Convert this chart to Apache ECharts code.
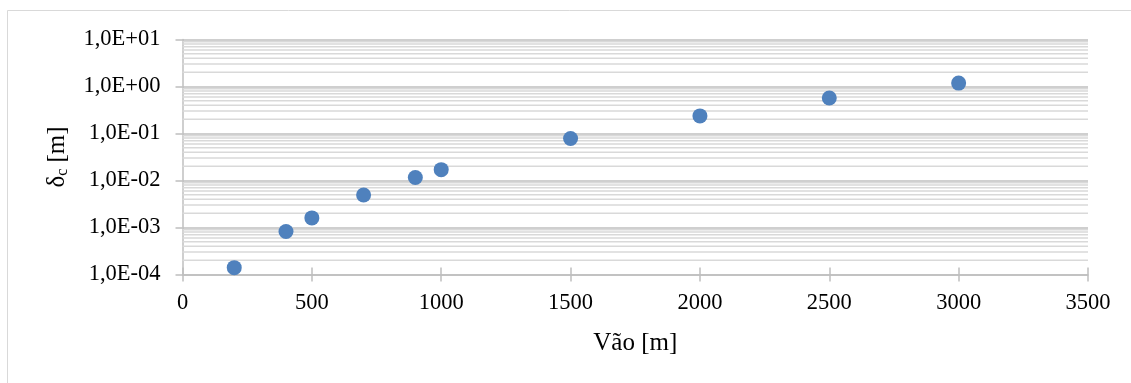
<!DOCTYPE html>
<html>
<head>
<meta charset="utf-8">
<script src="https://cdn.jsdelivr.net/npm/echarts@6/dist/echarts.min.js"></script>
<style>
  html, body { margin: 0; padding: 0; background: #ffffff; }
  #chart { width: 1131px; height: 383px; }
</style>
</head>
<body>
<div id="chart"></div>
<script>
// Span (m) and central deflection δc (m)
const spans = [200, 400, 500, 700, 900, 1000, 1500, 2000, 2500, 3000];
const deflections = [1.4e-4, 8.2e-4, 1.6e-3, 4.9e-3, 1.16e-2, 1.7e-2, 7.8e-2, 0.237, 0.57, 1.18];

// Axis ticks
const xTicks = [0, 500, 1000, 1500, 2000, 2500, 3000, 3500];
const yTickLabels = ['1,0E-04', '1,0E-03', '1,0E-02', '1,0E-01', '1,0E+00', '1,0E+01'];
const yMinExp = -4;
const yMaxExp = 1;

const FONT = '"Liberation Serif", "Times New Roman", serif';
const TICK_SIZE = 22.5;

const xMin = xTicks[0];
const xMax = xTicks[xTicks.length - 1];

// Minor gridlines at 2..9 within each decade, drawn as flat line series
const minorSeries = [];
for (let e = yMinExp; e < yMaxExp; e++) {
  for (let m = 2; m <= 9; m++) {
    const v = m * Math.pow(10, e);
    minorSeries.push({
      type: 'line',
      silent: true,
      symbol: 'none',
      data: [[xMin, v], [xMax, v]],
      lineStyle: { color: '#d9d9d9', width: 1.5 },
      z: 1
    });
  }
}

const points = spans.map((s, i) => [s, deflections[i]]);

const chart = echarts.init(document.getElementById('chart'), null, { renderer: 'canvas' });

chart.setOption({
  animation: false,
  backgroundColor: '#ffffff',
  graphic: [{
    type: 'rect',
    silent: true,
    shape: { x: 7.5, y: 10.5, width: 1200, height: 500 },
    style: { fill: 'none', stroke: '#d9d9d9', lineWidth: 1 }
  }],
  grid: { left: 182.5, right: 43, top: 39.5, bottom: 108.5, containLabel: false },
  xAxis: [{
    type: 'value',
    min: xMin,
    max: xMax,
    interval: 500,
    name: 'Vão [m]',
    nameLocation: 'middle',
    nameGap: 56,
    nameTextStyle: { fontFamily: FONT, fontSize: 25, color: '#000000' },
    axisLine: { show: true, onZero: false, lineStyle: { color: '#bfbfbf', width: 1.5 } },
    axisTick: { show: true, length: 7, lineStyle: { color: '#bfbfbf', width: 1.5 } },
    axisLabel: {
      margin: 17, fontFamily: FONT, fontSize: TICK_SIZE, color: '#000000',
      formatter: function (v) { return String(v); }
    },
    splitLine: { show: false }
  }, {
    // inner half of the cross tick marks
    type: 'value',
    position: 'bottom',
    min: xMin,
    max: xMax,
    interval: 500,
    axisLine: { show: false },
    axisTick: { show: true, inside: true, length: 7, lineStyle: { color: '#bfbfbf', width: 1.5 } },
    axisLabel: { show: false },
    splitLine: { show: false }
  }],
  yAxis: {
    type: 'log',
    logBase: 10,
    min: Math.pow(10, yMinExp),
    max: Math.pow(10, yMaxExp),
    splitNumber: 5,
    name: '{d|δ}{s|c}{d| [m]}',
    nameLocation: 'middle',
    nameRotate: 90,
    nameGap: 110,
    nameTextStyle: {
      fontFamily: FONT,
      color: '#000000',
      rich: {
        d: { fontFamily: FONT, fontSize: 25, color: '#000000', lineHeight: 30 },
        s: { fontFamily: FONT, fontSize: 16, color: '#000000', lineHeight: 30, padding: [10, 0, 0, 0] }
      }
    },
    axisLine: { show: true, lineStyle: { color: '#bfbfbf', width: 1.5 } },
    axisTick: { show: true, length: 7, lineStyle: { color: '#bfbfbf', width: 1.5 } },
    axisLabel: {
      margin: 22,
      fontFamily: FONT,
      fontSize: TICK_SIZE,
      color: '#000000',
      formatter: function (v) {
        const e = Math.round(Math.log10(v));
        return yTickLabels[e - yMinExp] || '';
      }
    },
    splitLine: { show: true, lineStyle: { color: '#bfbfbf', width: 1.5 } }
  },
  series: minorSeries.concat([{
    type: 'scatter',
    data: points,
    symbol: 'circle',
    symbolSize: 15,
    itemStyle: { color: '#4f81bd', opacity: 1 },
    z: 5
  }])
});
</script>
</body>
</html>
